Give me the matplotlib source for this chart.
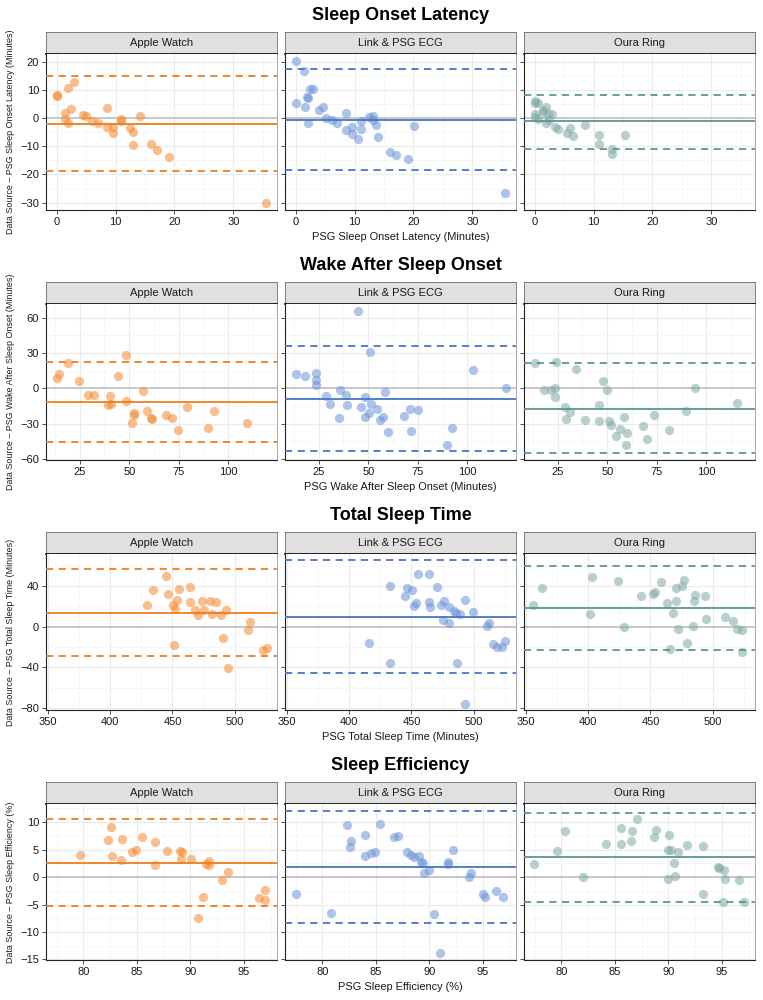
import matplotlib
matplotlib.use("Agg")
import matplotlib.pyplot as plt
import numpy as np

plt.rcParams["font.family"] = ["Liberation Sans", "DejaVu Sans"]

# --- devices / colours ---------------------------------------------------
devices = ["Apple Watch", "Link & PSG ECG", "Oura Ring"]
line_colors = ["#F07D1C", "#4477C6", "#559996"]
point_colors = ["#F58A2E", "#6A92D8", "#7FA9A7"]

# --- Sleep Onset Latency -------------------------------------------------
sol_apple_x = [0, 0, 2.0, 3.0, 1.5, 2.5, 1.5, 2.0, 4.4, 5.0, 6.0, 7.0, 8.5, 8.5, 9.6, 9.6,
               11.0, 11.0, 12.5, 13.0, 13.0, 14.1, 16.0, 17.0, 19.1, 35.6]
sol_apple_y = [8.0, 7.7, 10.6, 12.6, 1.8, 3.2, -0.2, -1.7, 1.2, 0.6, -1.2, -1.8, 3.7, -3.2, -3.2, -5.2,
               -0.4, -0.9, -3.7, -4.8, -9.7, 0.7, -9.2, -11.2, -13.7, -30.0]
sol_link_x = [0, 1.5, 2.5, 3.0, 2.0, 2.1, 0, 1.6, 4.0, 4.6, 2.1, 5.1, 6.1, 7.1, 8.6, 8.5,
              9.6, 9.6, 10.6, 11.1, 11.1, 12.5, 13.1, 13.1, 13.6, 14.0, 16.1, 17.1, 19.1, 20.1, 35.6]
sol_link_y = [20.2, 16.7, 10.4, 10.2, 7.6, 7.0, 5.4, 3.9, 2.8, 3.8, -1.8, 0.0, -0.7, -1.8, 1.9, -4.2,
              -3.3, -5.8, -7.6, -1.1, -3.8, 0.2, 0.8, -0.7, -2.3, -6.6, -12.1, -13.1, -14.6, -2.7, -26.5]
sol_oura_x = [0, 0.5, 0, 0, 0, 0.5, 1.4, 1.5, 2.0, 2.2, 3.0, 2.5, 2.0, 3.5, 4.0, 5.5,
              6.0, 6.5, 8.5, 10.9, 11.0, 13.1, 13.1, 15.4]
sol_oura_y = [5.9, 5.4, 5.2, 1.5, 0.2, -0.5, 2.1, 2.8, 3.9, 1.6, 1.5, -0.6, -1.9, -3.3, -4.0, -5.4,
              -3.4, -6.3, -2.5, -5.9, -9.3, -10.8, -12.9, -5.9]
sol_bias = [-2.0, -0.6, -1.2]
sol_upper = [14.8, 17.4, 8.2]
sol_lower = [-18.8, -18.5, -10.9]

# --- Wake After Sleep Onset ----------------------------------------------
waso_apple_x = [13.3, 14.8, 19.3, 24.8, 29.4, 32.2, 40.1, 39.4, 40.6, 44.3, 48.3, 48.3, 51.3,
                52.3, 52.3, 56.7, 59.1, 60.9, 61.7, 68.5, 71.5, 74.7, 78.9, 89.8, 92.6, 109.4]
waso_apple_y = [8.7, 12.1, 21.7, 6.5, -5.9, -5.9, -6.8, -14.6, -13.0, 10.7, 28.5, -11.0, -29.3,
                -21.1, -22.5, -2.3, -18.9, -25.4, -26.5, -22.8, -25.4, -35.2, -16.3, -33.8, -18.9, -29.3]
waso_link_x = [44.9, 51.0, 13.6, 18.0, 23.6, 23.6, 23.6, 28.6, 30.9, 35.5, 35.0, 38.9, 39.4, 46.1,
               48.1, 48.4, 50.5, 51.5, 54.5, 55.9, 57.6, 58.4, 60.0, 68.1, 71.0, 71.5, 75.1, 89.5,
               92.4, 102.8, 119.4]
waso_link_y = [65.6, 31.0, 12.4, 10.7, 12.7, 7.0, 2.8, -6.2, -13.0, -1.1, -25.1, -5.6, -14.1, -16.3,
               -7.3, -24.8, -21.4, -13.5, -17.2, -27.0, -24.8, -2.8, -37.2, -23.9, -17.2, -36.1, -18.6,
               -47.9, -33.8, 15.5, 0.0]
waso_oura_x = [13.4, 24.1, 34.4, 17.9, 21.4, 23.6, 23.5, 28.6, 31.0, 29.4, 39.0, 45.9, 45.9, 48.0,
               49.8, 51.0, 51.7, 56.2, 54.3, 58.4, 60.1, 59.5, 68.0, 70.0, 73.6, 81.1, 89.6, 94.2, 115.6]
waso_oura_y = [21.4, 22.5, 16.1, -1.4, -1.4, 0.6, -7.6, -15.5, -20.0, -26.5, -27.0, -14.4, -27.9, 6.5,
               -1.7, -27.6, -31.5, -34.6, -40.6, -24.5, -38.3, -48.5, -32.4, -43.4, -22.8, -35.5, -18.9,
               0.6, -12.4]
waso_bias = [-11.3, -9.0, -17.2]
waso_upper = [22.3, 35.5, 21.1]
waso_lower = [-45.4, -53.0, -54.9]

# --- Total Sleep Time ----------------------------------------------------
tst_apple_x = [429.7, 434.0, 445.2, 446.8, 450.5, 452.1, 451.6, 454.0, 455.3, 463.9, 464.4, 468.4,
               470.9, 473.5, 475.7, 479.9, 481.6, 484.8, 489.0, 490.9, 493.3, 494.4, 510.7, 512.3,
               523.0, 525.7]
tst_apple_y = [21.4, 36.6, 49.5, 32.3, 21.1, 17.1, -18.1, 26.7, 37.3, 39.2, 24.7, 16.2, 11.9, 25.1,
               16.8, 25.7, 12.5, 24.7, 11.5, -11.5, 16.5, -40.9, -3.3, 4.3, -22.7, -21.4]
tst_link_x = [415.7, 432.4, 432.9, 445.0, 446.3, 450.6, 451.7, 453.6, 454.9, 463.8, 464.1, 464.6,
              470.5, 473.4, 476.4, 475.0, 479.9, 480.4, 484.4, 486.0, 488.7, 486.8, 493.0, 493.0,
              499.5, 510.5, 512.1, 515.3, 518.5, 522.5, 525.5]
tst_link_y = [-16.3, -35.4, 40.1, 29.8, 38.1, 36.1, 20.3, 23.6, 52.3, 52.3, 23.9, 19.6, 39.5, 21.6,
              24.9, 6.8, 3.8, 19.9, 15.0, 13.7, 12.7, -35.8, 26.2, -75.7, 14.7, 0.8, 4.1, -17.0,
              -19.9, -19.6, -14.0]
tst_oura_x = [355.7, 362.7, 401.6, 403.0, 423.8, 428.9, 442.2, 451.9, 453.8, 458.4, 463.5, 465.9,
              468.4, 470.8, 470.8, 471.9, 475.4, 477.0, 479.7, 484.1, 485.1, 485.7, 493.8, 494.6,
              509.5, 516.2, 519.2, 523.5, 523.5]
tst_oura_y = [21.1, 38.2, 12.2, 48.5, 44.9, -0.3, 30.7, 32.7, 34.0, 44.2, 23.1, -22.4, 13.2, 25.7,
              38.6, -2.6, 40.3, 45.8, -15.8, 0.7, 25.7, 31.4, 30.4, 7.9, 9.9, 5.9, -2.3, -3.3, -24.8]
tst_bias = [13.5, 9.7, 18.5]
tst_upper = [56.4, 65.4, 59.7]
tst_lower = [-29.0, -45.7, -23.1]

# --- Sleep Efficiency ----------------------------------------------------
se_apple_x = [79.7, 82.3, 82.6, 82.7, 83.5, 83.6, 84.5, 84.9, 85.5, 86.7, 86.7, 87.8, 89.0, 89.2,
              89.1, 90.1, 91.2, 90.7, 91.5, 91.7, 91.7, 93.0, 93.5, 96.4, 97.0, 97.0]
se_apple_y = [4.0, 6.7, 9.1, 3.9, 3.1, 7.0, 4.5, 5.0, 7.3, 6.3, 2.2, 4.7, 4.8, 4.6,
              3.2, 3.2, -3.6, -7.4, 2.4, 3.0, 2.2, -0.5, 0.9, -3.8, -2.3, -4.1]
se_link_x = [77.5, 80.8, 82.3, 82.6, 82.7, 84.0, 84.0, 84.5, 84.9, 85.4, 86.7, 87.1, 87.9, 88.3,
             88.6, 89.0, 89.2, 89.4, 89.5, 90.0, 90.4, 91.0, 91.7, 91.7, 92.2, 93.7, 93.9, 95.0,
             95.2, 96.2, 96.9]
se_link_y = [-3.0, -6.6, 9.4, 5.5, 6.6, 7.7, 3.8, 4.4, 4.5, 9.6, 7.3, 7.4, 4.6, 4.1,
             3.6, 3.8, 2.8, 2.5, 0.8, 1.2, -6.7, -13.9, 2.7, 2.3, 4.9, 0.1, 0.7, -3.1,
             -3.6, -2.5, -3.6]
se_oura_x = [77.4, 79.6, 80.3, 82.0, 84.2, 85.6, 85.6, 86.5, 86.6, 87.1, 88.7, 88.8, 90.0, 90.1,
             90.0, 90.2, 90.5, 90.6, 90.9, 91.7, 93.2, 93.2, 94.6, 94.7, 95.2, 95.1, 95.3, 96.6, 97.1]
se_oura_y = [2.4, 4.7, 8.4, 0.0, 6.1, 6.1, 9.0, 6.5, 8.4, 10.6, 7.3, 8.6, 5.0, 7.6,
             -0.4, 4.9, 2.6, 0.2, 4.5, 5.9, 5.7, -3.0, 1.8, 1.6, 1.2, -4.5, -0.4, -0.5, -4.5]
se_bias = [2.5, 1.8, 3.6]
se_upper = [10.5, 12.1, 11.7]
se_lower = [-5.3, -8.4, -4.5]

# --- per-row axes setup --------------------------------------------------
rows = [
    dict(title="Sleep Onset Latency",
         xlabel="PSG Sleep Onset Latency (Minutes)",
         ylabel="Data Source \u2013 PSG Sleep Onset Latency (Minutes)",
         xs=[sol_apple_x, sol_link_x, sol_oura_x], ys=[sol_apple_y, sol_link_y, sol_oura_y],
         bias=sol_bias, upper=sol_upper, lower=sol_lower,
         xlim=(-1.8, 37.4), ylim=(-32.6, 22.7),
         xticks=[0, 10, 20, 30], xminor=[5, 15, 25, 35],
         yticks=[-30, -20, -10, 0, 10, 20], yminor=[-25, -15, -5, 5, 15],
         top=32),
    dict(title="Wake After Sleep Onset",
         xlabel="PSG Wake After Sleep Onset (Minutes)",
         ylabel="Data Source \u2013 PSG Wake After Sleep Onset (Minutes)",
         xs=[waso_apple_x, waso_link_x, waso_oura_x], ys=[waso_apple_y, waso_link_y, waso_oura_y],
         bias=waso_bias, upper=waso_upper, lower=waso_lower,
         xlim=(8.0, 124.5), ylim=(-60.9, 71.5),
         xticks=[25, 50, 75, 100], xminor=[12.5, 37.5, 62.5, 87.5, 112.5],
         yticks=[-60, -30, 0, 30, 60], yminor=[-45, -15, 15, 45],
         top=282),
    dict(title="Total Sleep Time",
         xlabel="PSG Total Sleep Time (Minutes)",
         ylabel="Data Source \u2013 PSG Total Sleep Time (Minutes)",
         xs=[tst_apple_x, tst_link_x, tst_oura_x], ys=[tst_apple_y, tst_link_y, tst_oura_y],
         bias=tst_bias, upper=tst_upper, lower=tst_lower,
         xlim=(348.4, 534.0), ylim=(-82.0, 71.6),
         xticks=[350, 400, 450, 500], xminor=[375, 425, 475, 525],
         yticks=[-80, -40, 0, 40], yminor=[-60, -20, 20, 60],
         top=532),
    dict(title="Sleep Efficiency",
         xlabel="PSG Sleep Efficiency (%)",
         ylabel="Data Source \u2013 PSG Sleep Efficiency (%)",
         xs=[se_apple_x, se_link_x, se_oura_x], ys=[se_apple_y, se_link_y, se_oura_y],
         bias=se_bias, upper=se_upper, lower=se_lower,
         xlim=(76.5, 98.1), ylim=(-15.1, 13.3),
         xticks=[80, 85, 90, 95], xminor=[77.5, 82.5, 87.5, 92.5, 97.5],
         yticks=[-15, -10, -5, 0, 5, 10], yminor=[-12.5, -7.5, -2.5, 2.5, 7.5, 12.5],
         top=782),
]

W, H = 763, 1000
fig = plt.figure(figsize=(W / 100, H / 100), dpi=100)
fig.patch.set_facecolor("white")

panel_left = [46, 285, 524]
panel_w = 231
strip_h = 22
panel_h = 156


def frac(x0, y0, w, h):
    return [x0 / W, 1 - (y0 + h) / H, w / W, h / H]


for row in rows:
    top = row["top"]
    ptop = top + strip_h
    for j in range(3):
        x0 = panel_left[j]
        # strip
        sax = fig.add_axes(frac(x0, top, panel_w, strip_h))
        sax.set_facecolor("#E0E0E0")
        sax.set_xticks([])
        sax.set_yticks([])
        for side in ("top", "left", "right"):
            sax.spines[side].set_color("#555555")
            sax.spines[side].set_linewidth(0.5)
        sax.spines["bottom"].set_color("black")
        sax.spines["bottom"].set_linewidth(1.2)
        sax.text(0.5, 0.5, devices[j], ha="center", va="center", fontsize=8,
                 color="#1A1A1A", transform=sax.transAxes)

        ax = fig.add_axes(frac(x0, ptop, panel_w, panel_h))
        ax.set_facecolor("white")
        ax.set_xlim(*row["xlim"])
        ax.set_ylim(*row["ylim"])
        ax.set_xticks(row["xticks"])
        ax.set_yticks(row["yticks"])
        ax.set_xticks(row["xminor"], minor=True)
        ax.set_yticks(row["yminor"], minor=True)
        ax.grid(True, which="major", color="#EBEBEB", linewidth=0.8, zorder=0)
        ax.grid(True, which="minor", color="#F4F4F4", linewidth=0.5, zorder=0)
        ax.set_axisbelow(True)
        ax.tick_params(which="minor", length=0)
        ax.tick_params(which="major", length=3, width=0.6, color="#333333",
                       labelsize=8, labelcolor="#1A1A1A", pad=2)
        if j > 0:
            ax.tick_params(axis="y", labelleft=False)
        ax.spines["top"].set_visible(False)
        ax.spines["right"].set_color("#9A9A9A")
        ax.spines["right"].set_linewidth(0.6)
        ax.spines["left"].set_color("#222222")
        ax.spines["bottom"].set_color("#222222")
        ax.spines["left"].set_linewidth(0.8)
        ax.spines["bottom"].set_linewidth(0.8)

        ax.axhline(0, color="#C8C8C8", linewidth=1.4, zorder=1)
        ax.scatter(row["xs"][j], row["ys"][j], s=44, color=point_colors[j],
                   alpha=0.55, linewidths=0, zorder=2)
        ax.axhline(row["bias"][j], color=line_colors[j], linewidth=1.3, zorder=3)
        ax.axhline(row["upper"][j], color=line_colors[j], linewidth=1.3,
                   linestyle=(0, (4, 3)), zorder=3)
        ax.axhline(row["lower"][j], color=line_colors[j], linewidth=1.3,
                   linestyle=(0, (4, 3)), zorder=3)

    # row title, x label, y label
    cx = (panel_left[0] + panel_left[2] + panel_w) / 2 / W
    fig.text(cx, 1 - (top - 17) / H, row["title"], ha="center", va="center",
             fontsize=13, fontweight="bold", color="black")
    fig.text(cx, 1 - (ptop + panel_h + 27) / H, row["xlabel"], ha="center",
             va="center", fontsize=7.9, color="#1A1A1A")
    fig.text(11 / W, 1 - (ptop + panel_h / 2) / H, row["ylabel"], ha="center",
             va="center", rotation=90, fontsize=6.4, color="#1A1A1A")

fig.savefig("out.png", dpi=100, facecolor="white")
